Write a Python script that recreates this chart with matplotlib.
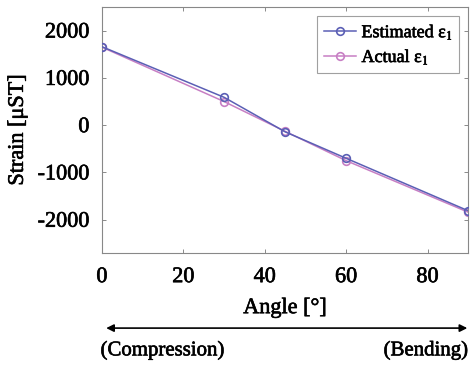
import matplotlib
matplotlib.use("Agg")
import matplotlib.pyplot as plt
import matplotlib.patheffects as pe

angles = [0, 30, 45, 60, 90]
estimated = [1660, 590, -140, -700, -1810]
actual = [1650, 500, -130, -750, -1840]
xticks = [0, 20, 40, 60, 80]
yticks = [-2000, -1000, 0, 1000, 2000]

plt.rcParams['font.family'] = ['Liberation Serif', 'DejaVu Serif']
plt.rcParams['mathtext.fontset'] = 'stix'
plt.rcParams['axes.unicode_minus'] = False

fig = plt.figure(figsize=(4.72, 3.67), dpi=100)
ax = fig.add_axes([0.216, 0.311, 0.776, 0.670])

c_est = '#5b5fb5'
c_act = '#c77fc4'
ax.plot(angles, estimated, color=c_est, lw=1.1, marker='o', ms=5.5, mfc='none', mew=1.2,
        label='Estimated ε$_1$', zorder=3)
ax.plot(angles, actual, color=c_act, lw=1.1, marker='o', ms=5.5, mfc='none', mew=1.2,
        label='Actual ε$_1$', zorder=2)

ax.set_xlim(0, 90)
ax.set_ylim(-2700, 2500)
ax.set_xticks(xticks)
ax.set_yticks(yticks)
ax.tick_params(direction='in', length=3, top=True, right=True, labelsize=16, width=0.6,
               color='#777777')
ax.tick_params(axis='x', pad=11)
ax.tick_params(axis='y', pad=9)
for s in ax.spines.values():
    s.set_color('#888888')
    s.set_linewidth(0.8)

ax.set_xlabel('Angle [°]', fontsize=16, labelpad=8)
ax.set_ylabel('Strain [μST]', fontsize=16, labelpad=7)

leg = ax.legend(loc='upper right', fontsize=13, frameon=True, fancybox=False,
                edgecolor='#888888', borderpad=0.35, handlelength=1.8, handletextpad=0.3,
                labelspacing=0.3, borderaxespad=0.5)
leg.get_frame().set_linewidth(0.8)

# double arrow below the axis
ax.annotate('', xy=(0.99, 0.106), xytext=(0.225, 0.106), xycoords='figure fraction',
            arrowprops=dict(arrowstyle='<|-|>', color='black', lw=1.2,
                            mutation_scale=11, shrinkA=0, shrinkB=0))
t1 = fig.text(0.213, 0.045, '(Compression)', fontsize=15, ha='left', va='center')
t2 = fig.text(0.992, 0.045, '(Bending)', fontsize=15, ha='right', va='center')

thick = [pe.withStroke(linewidth=0.45, foreground='black')]
texts = (ax.get_xticklabels() + ax.get_yticklabels() + leg.get_texts()
         + [ax.xaxis.label, ax.yaxis.label, t1, t2])
for t in texts:
    t.set_path_effects(thick)

fig.savefig('out.png', dpi=100)
